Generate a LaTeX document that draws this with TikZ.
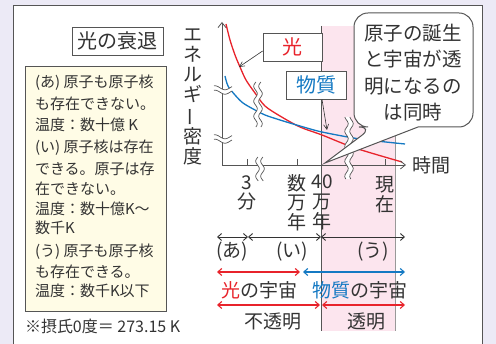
\documentclass[tikz,border=0pt]{standalone}
\usepackage{fontspec}
\setmainfont{Noto Sans CJK JP}
\usepackage{graphicx}
\usetikzlibrary{arrows.meta,calc}

\definecolor{hred}{HTML}{E8232B}
\definecolor{mblue}{HTML}{1479C3}
\definecolor{pinkbg}{HTML}{FCE5EE}
\definecolor{cream}{HTML}{FFFCE6}
\definecolor{lav}{HTML}{ECEAF6}
\definecolor{ink}{HTML}{333333}
\definecolor{frame}{HTML}{555555}

\tikzset{
	lbl/.style={inner sep=0pt, outer sep=0pt, text=ink, align=center,
		font=\fontsize{19}{19.7}\selectfont},
	info/.style={inner sep=0pt, outer sep=0pt, text=ink, anchor=west,
		font=\fontsize{15}{18}\selectfont},
	tagbox/.style={draw=frame, fill=white, line width=0.8pt, minimum height=28pt,
		inner sep=0pt, font=\fontsize{20}{22}\selectfont},
	brk/.style={frame, line width=0.7pt},
	ax/.style={frame, line width=0.8pt, -{Straight Barb[length=5pt,width=8pt]}},
	ptr/.style={ink, line width=0.6pt, -{Straight Barb[length=5pt,width=5pt]}},
	rng/.style={line width=1.1pt, {Straight Barb[length=4pt,width=7pt]}-{Straight Barb[length=4pt,width=7pt]}}
}

% double wavy break, vertical: x, y1, y2
\newcommand{\vbrk}[3]{%
	\fill[white] plot[domain=#2:#3, samples=30, variable=\yy] ({#1-2.5+1.8*sin(24*\yy)},{\yy})
		-- plot[domain=#3:#2, samples=30, variable=\yy] ({#1+2.5+1.8*sin(24*\yy)},{\yy}) -- cycle;
	\draw[brk] plot[domain=#2:#3, samples=30, smooth, variable=\yy] ({#1-2.5+1.8*sin(24*\yy)},{\yy});
	\draw[brk] plot[domain=#2:#3, samples=30, smooth, variable=\yy] ({#1+2.5+1.8*sin(24*\yy)},{\yy});
}
% double wavy break, horizontal: y, x1, x2
\newcommand{\hbrk}[3]{%
	\fill[white] plot[domain=#2:#3, samples=25, variable=\xx] ({\xx},{#1-2.2+2*sin(18*\xx)})
		-- plot[domain=#3:#2, samples=25, variable=\xx] ({\xx},{#1+2.2+2*sin(18*\xx)}) -- cycle;
	\draw[brk] plot[domain=#2:#3, samples=25, smooth, variable=\xx] ({\xx},{#1-2.2+2*sin(18*\xx)});
	\draw[brk] plot[domain=#2:#3, samples=25, smooth, variable=\xx] ({\xx},{#1+2.2+2*sin(18*\xx)});
}

\begin{document}
\begin{tikzpicture}[x=1pt, y=-1pt]
	\useasboundingbox (0,0) rectangle (496,344);
	\fill[lav] (0,0) rectangle (496,344);
	\fill[white] (13,5) rectangle (482,344);
	\draw[frame, line width=0.8pt] (13,344) -- (13,5) -- (482,5) -- (482,344);

	% title and notes
	\node[tagbox, minimum width=91pt, text=ink] (title) at (117.5,41) {光の衰退};
	\draw[frame, fill=cream, line width=0.8pt] (25,66) rectangle (166,311);
	\foreach \txt/\y [count=\i] in {{(あ) 原子も原子核}/83, {も存在できない。}/104, {温度：数十億 K}/125,
			{(い) 原子核は存在}/148, {できる。原子は存}/169, {在できない。}/189, {温度：数十億K～}/209, {数千K}/228,
			{(う) 原子も原子核}/252, {も存在できる。}/272, {温度：数千K以下}/291}
		\node[info] (info\i) at (35,\y) {\txt};
	\node[info, font=\fontsize{16}{18}\selectfont] (note) at (25,326) {※摂氏0度＝ 273.15 K};

	% transparent era
	\fill[pinkbg] (321,26) rectangle (395,331);
	\draw[frame, line width=0.7pt] (321,26) -- (321,331);
	\draw[frame!60, line width=0.7pt] (395,26) -- (395,331);

	% curves
	\draw[hred, line width=1.3pt] plot[smooth] coordinates {(226,24) (230,40) (235,55) (240,67) (246,80) (255,93) (265,106) (280,116) (300,127) (322,135) (355,148) (402,162)};
	\draw[mblue, line width=1.3pt] plot[smooth] coordinates {(225,76) (228,86) (235,95) (243,103) (255,110) (265,115) (280,120) (300,126) (322,132) (360,139) (405,144)};
	\coordinate (pr) at (239,67);
	\coordinate (pb) at (327,130);

	% axes
	\coordinate (o) at (222,165);
	\coordinate (ytop) at (222,22);
	\coordinate (xend) at (406,165);
	\draw[ax] (o) -- (ytop);
	\draw[ax] (o) -- (xend);
	\foreach \x in {247,297,385}
		\draw[frame, line width=0.7pt] (\x,165) -- (\x,159);

	\vbrk{258}{82}{127}
	\vbrk{260}{157}{181}
	\vbrk{349}{117}{179}
	\hbrk{90}{214}{232}
	\hbrk{139}{214}{232}

	\node[lbl, font=\fontsize{19}{20}\selectfont] (ylab) at (193,97) {エ\\ネ\\ル\\ギ\\\rotatebox[origin=c]{90}{ー}\\密\\度};
	\node[lbl] (jikan) at (431,165) {時間};

	% tick labels
	\node[lbl] (t3) at (247,193) {3\\分};
	\node[lbl] (tsu) at (297,202.5) {数\\万\\年};
	\node[lbl] (t40) at (322,202.5) {40\\万\\年};
	\node[lbl] (tnow) at (385,195) {現\\在};

	% bubble
	\coordinate (tip) at (325,163);
	\draw[frame, fill=white, line width=1pt, rounded corners=14pt] (418,127) -- (473,127) -- (473,13) -- (354,13) -- (354,127) -- (373,127) [sharp corners] -- (tip) -- cycle;
	\node[lbl, font=\fontsize{19.5}{26.5}\selectfont] (bub) at (413,72.5) {原子の誕生\\と宇宙が透\\明になるの\\は同時};

	% curve tags
	\node[tagbox, minimum width=59pt, text=hred] (hikari) at (292.5,47) {光};
	\node[tagbox, minimum width=60pt, text=mblue] (busshitsu) at (316,85) {物質};
	\draw[ptr] ($(hikari.west)+(0,4)$) -- (pr);
	\draw[ptr] ($(busshitsu.south)+(6,0)$) -- (pb);

	% eras
	\coordinate (r1a) at (217,237);
	\coordinate (r1b) at (248,237);
	\coordinate (r1c) at (321,237);
	\coordinate (r1d) at (405,237);
	\draw[rng, ink, line width=0.9pt] (r1a) -- (r1b);
	\draw[rng, ink, line width=0.9pt] (r1b) -- (r1c);
	\draw[rng, ink, line width=0.9pt] (r1c) -- (r1d);
	\node[lbl] (era1) at (232,252) {(あ)};
	\node[lbl] (era2) at (292,252) {(い)};
	\node[lbl] (era3) at (373,252) {(う)};

	\coordinate (r2a) at (217,272);
	\coordinate (r2b) at (300,272);
	\coordinate (r2c) at (303,272);
	\coordinate (r2d) at (405,272);
	\draw[rng, hred] (r2a) -- (r2b);
	\draw[rng, mblue] (r2c) -- (r2d);
	\node[lbl] (uhikari) at (259,290) {\textcolor{hred}{光}の宇宙};
	\node[lbl] (ubusshitsu) at (360,290) {\textcolor{mblue}{物質}の宇宙};

	\coordinate (r3a) at (217,305);
	\coordinate (r3b) at (320,305);
	\coordinate (r3c) at (322,305);
	\coordinate (r3d) at (405,305);
	\draw[rng, hred] (r3a) -- (r3b);
	\draw[rng, hred] (r3c) -- (r3d);
	\node[lbl] (opaque) at (273,322) {不透明};
	\node[lbl] (clear) at (366,322) {透明};
\end{tikzpicture}
\end{document}
